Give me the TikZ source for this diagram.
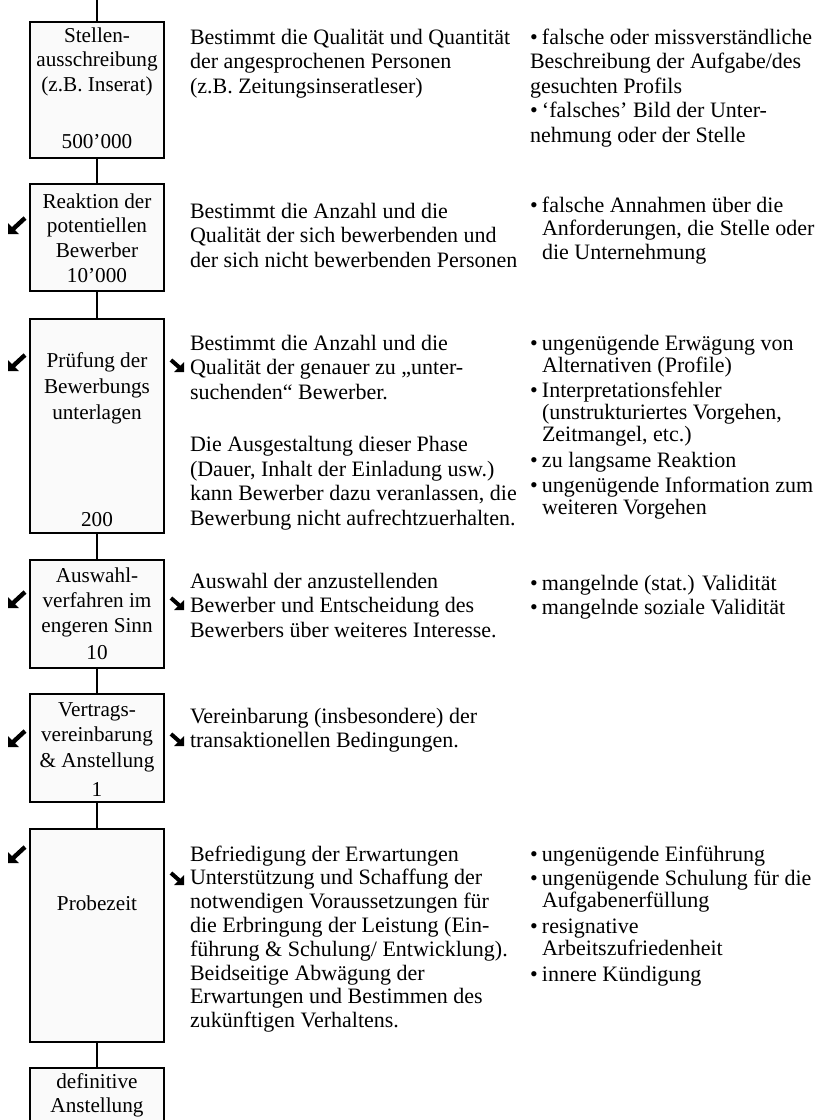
\documentclass[tikz,border=0pt]{standalone}
\usepackage{fontspec}
\setmainfont{Liberation Serif}
\usetikzlibrary{fit}
\newcommand{\colfont}[1]{\fontsize{11}{#1}\selectfont}
\newcommand{\boxfont}{\fontsize{10.6}{12.75}\selectfont}
\newcommand{\mybul}{\makebox[6pt][l]{\textbullet}}
\newcommand{\myind}{\hspace*{6pt}}
\tikzset{
  stagebox/.style={draw, line width=1pt, fill=black!2, inner sep=0pt},
  link/.style={line width=0.8pt},
  txt/.style={inner sep=0pt, outer sep=0pt},
  swarrow/.pic={
    \fill (-9,8) -- (-9,-3) -- (2,8) -- cycle;
    \draw[line width=2.2pt] (-5,4) -- (8,-8);
  },
  searrow/.pic={
    \fill (7,6) -- (7,-4) -- (-3,6) -- cycle;
    \draw[line width=2pt] (3,2) -- (-6,-6);
  }
}
\begin{document}
\begin{tikzpicture}[x=0.5pt,y=-0.5pt]
\useasboundingbox (0,0) rectangle (832,1120);
% stage boxes
\node[stagebox, fit={(30,22) (164,158)}] (b1) {};
\node[stagebox, fit={(30,184) (164,291)}] (b2) {};
\node[stagebox, fit={(30,319) (164,533)}] (b3) {};
\node[stagebox, fit={(30,560) (164,668)}] (b4) {};
\node[stagebox, fit={(30,694) (164,802)}] (b5) {};
\node[stagebox, fit={(30,829) (164,1042)}] (b6) {};
\node[stagebox, fit={(30,1068) (164,1150)}] (b7) {};
\coordinate (top) at (97,0);
% connectors
\draw[link] (top) -- (b1.north);
\draw[link] (b1.south) -- (b2.north);
\draw[link] (b2.south) -- (b3.north);
\draw[link] (b3.south) -- (b4.north);
\draw[link] (b4.south) -- (b5.north);
\draw[link] (b5.south) -- (b6.north);
\draw[link] (b6.south) -- (b7.north);
% box texts
\node[txt, anchor=base] (l1) at (97,42) {\parbox[t]{66pt}{\fontsize{10.6}{12.25}\selectfont\centering Stellen-\\ausschreibung\\(z.B. Inserat)}};
\node[txt, anchor=base] (n1) at (97,148) {\boxfont 500’000};
\node[txt, anchor=base] (l2) at (97,208) {\parbox[t]{66pt}{\fontsize{10.6}{12.3}\selectfont\centering Reaktion der\\potentiellen\\Bewerber}};
\node[txt, anchor=base] (n2) at (97,282) {\boxfont 10’000};
\node[txt, anchor=base] (l3) at (97,367) {\parbox[t]{66pt}{\fontsize{10.6}{13.1}\selectfont\centering Prüfung der\\Bewerbungs\\unterlagen}};
\node[txt, anchor=base] (n3) at (97,526) {\boxfont 200};
\node[txt, anchor=base] (l4) at (97,582) {\parbox[t]{66pt}{\fontsize{10.6}{12.6}\selectfont\centering Auswahl-\\verfahren im\\engeren Sinn}};
\node[txt, anchor=base] (n4) at (97,659) {\boxfont 10};
\node[txt, anchor=base] (l5) at (97,716) {\parbox[t]{66pt}{\fontsize{10.6}{12.75}\selectfont\centering Vertrags-\\vereinbarung\\\&~Anstellung}};
\node[txt, anchor=base] (n5) at (97,796) {\boxfont 1};
\node[txt, anchor=base] (l6) at (97,910) {\boxfont Probezeit};
\node[txt, anchor=base] (l7) at (97,1088) {\parbox[t]{66pt}{\fontsize{10.6}{12}\selectfont\centering definitive\\Anstellung}};
% arrows
\pic at (17,226) {swarrow};
\pic at (17,363) {swarrow};
\pic at (17,600) {swarrow};
\pic at (17,739) {swarrow};
\pic at (17,855) {swarrow};
\pic at (177,366) {searrow};
\pic at (177,604) {searrow};
\pic at (177,740) {searrow};
\pic at (177,879) {searrow};
% descriptions
\node[txt, anchor=base west] (d1) at (190,44) {\parbox[t]{170pt}{\colfont{12.25}\raggedright
Bestimmt die Qualität und Quantität\\der angesprochenen Personen\\(z.B. Zeitungsinseratleser)}};
\node[txt, anchor=base west] (d2) at (190,218) {\parbox[t]{170pt}{\colfont{12.25}\raggedright
Bestimmt die Anzahl und die\\Qualität der sich bewerbenden und\\der sich nicht bewerbenden Personen}};
\node[txt, anchor=base west] (d3) at (190,350) {\parbox[t]{170pt}{\colfont{12.25}\raggedright
Bestimmt die Anzahl und die\\Qualität der genauer zu „unter-\\suchenden“ Bewerber.\\[14pt]
Die Ausgestaltung dieser Phase\\(Dauer, Inhalt der Einladung usw.)\\kann Bewerber dazu veranlassen, die\\Bewerbung nicht aufrechtzuerhalten.}};
\node[txt, anchor=base west] (d4) at (190,588) {\parbox[t]{170pt}{\colfont{12.25}\raggedright
Auswahl der anzustellenden\\Bewerber und Entscheidung des\\Bewerbers über weiteres Interesse.}};
\node[txt, anchor=base west] (d5) at (190,723) {\parbox[t]{170pt}{\colfont{12.25}\raggedright
Vereinbarung (insbesondere) der\\transaktionellen Bedingungen.}};
\node[txt, anchor=base west] (d6) at (190,861) {\parbox[t]{170pt}{\colfont{11.9}\raggedright
Befriedigung der Erwartungen\\Unterstützung und Schaffung der\\notwendigen Voraussetzungen für\\die Erbringung der Leistung (Ein-\\führung \& Schulung/ Entwicklung).\\Beidseitige Abwägung der\\Erwartungen und Bestimmen des\\zukünftigen Verhaltens.}};
% problems
\node[txt, anchor=base west] (p1) at (530,44) {\parbox[t]{150pt}{\colfont{12.25}\raggedright
\mybul falsche oder missverständliche\\Beschreibung der Aufgabe/des\\gesuchten Profils\\
\mybul ‘falsches’ Bild der Unter-\\nehmung oder der Stelle}};
\node[txt, anchor=base west] (p2) at (530,212) {\parbox[t]{150pt}{\colfont{11.9}\raggedright
\mybul falsche Annahmen über die\\\myind Anforderungen, die Stelle oder\\\myind die Unternehmung}};
\node[txt, anchor=base west] (p3) at (530,350) {\parbox[t]{150pt}{\colfont{11}\raggedright
\mybul ungenügende Erwägung von\\\myind Alternativen (Profile)\\[1.5pt]
\mybul Interpretationsfehler\\\myind (unstrukturiertes Vorgehen,\\\myind Zeitmangel, etc.)\\[2pt]
\mybul zu langsame Reaktion\\[1.5pt]
\mybul ungenügende Information zum\\\myind weiteren Vorgehen}};
\node[txt, anchor=base west] (p4) at (530,590) {\parbox[t]{150pt}{\colfont{12}\raggedright
\mybul mangelnde (stat.) Validität\\
\mybul mangelnde soziale Validität}};
\node[txt, anchor=base west] (p6) at (530,861) {\parbox[t]{150pt}{\colfont{10.75}\raggedright
\mybul ungenügende Einführung\\[1.5pt]
\mybul ungenügende Schulung für die\\\myind Aufgabenerfüllung\\[2.5pt]
\mybul resignative\\\myind Arbeitszufriedenheit\\[2.5pt]
\mybul innere Kündigung}};
\end{tikzpicture}
\end{document}
